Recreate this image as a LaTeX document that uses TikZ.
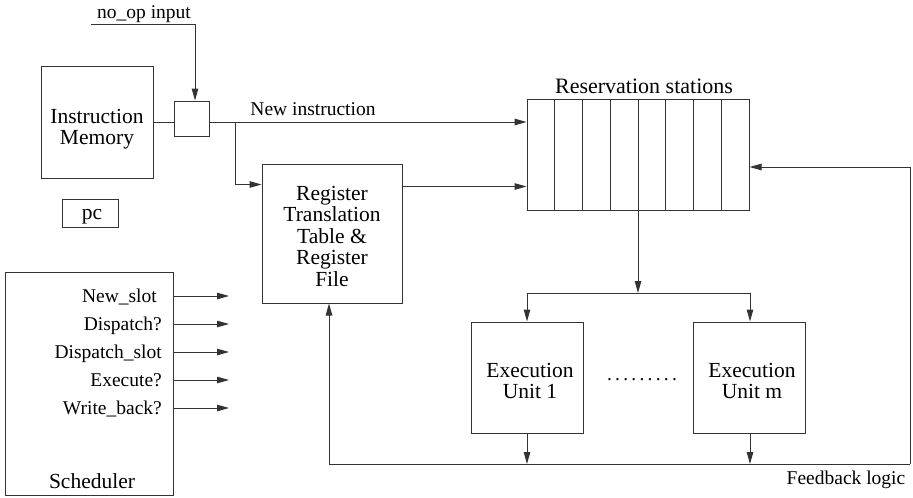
\documentclass[tikz,border=0pt]{standalone}
\usepackage{fontspec}
\setmainfont{Liberation Serif}
\usetikzlibrary{arrows.meta,calc}
\begin{document}
\begin{tikzpicture}[x=1pt,y=-1pt,
  box/.style={draw=black!80,line width=1pt,rectangle,inner sep=0pt},
  ln/.style={draw=black!80,line width=1pt},
  arr/.style={ln,-{Triangle[length=12pt,width=6.5pt]}},
  lab/.style={font=\fontsize{19.5}{21}\selectfont,inner sep=0pt},
  big/.style={font=\fontsize{21.5}{21.5}\selectfont,inner sep=0pt,align=center}]
\useasboundingbox (0,0) rectangle (913,498);

% boxes
\node[box,minimum width=112pt,minimum height=112pt] (im) at (97,122) {};
\node[big] (imt) at (97,129) {Instruction\\Memory};
\node[box,minimum width=35pt,minimum height=35pt] (mux) at (191.5,118.5) {};
\node[box,minimum width=56pt,minimum height=28pt] (pc) at (90,213) {};
\node[big,anchor=base] (pct) at (92,219) {pc};
\node[box,minimum width=168pt,minimum height=223pt] (sched) at (89,383.5) {};
\node[big,anchor=base] (schedt) at (92,488) {Scheduler};
\node[box,minimum width=140pt,minimum height=139pt] (rtt) at (332,233.5) {};
\node[big] (rttt) at (332,236) {Register\\Translation\\Table \&\\Register\\File};
\node[box,minimum width=222pt,minimum height=111pt] (rs) at (638,154.5) {};
\foreach \i in {1,...,7}
  \draw[ln] ($(rs.north west)!\i/8!(rs.north east)$) -- ($(rs.south west)!\i/8!(rs.south east)$);
\node[big,anchor=base,font=\fontsize{22}{22}\selectfont] (rst) at (644,93) {Reservation stations};
\node[box,minimum width=112pt,minimum height=111pt] (eu1) at (527,377.5) {};
\node[big] (eu1t) at (530,381) {Execution\\ Unit 1};
\node[box,minimum width=112pt,minimum height=111pt] (eum) at (749,377.5) {};
\node[big] (eumt) at (752,381) {Execution\\Unit m};
\node[lab,anchor=base] (dots) at (642,380) {\makebox[70pt]{.\hfill.\hfill.\hfill.\hfill.\hfill.\hfill.\hfill.\hfill.}};

% labels
\node[lab,anchor=base] (noop) at (144,18) {no\_op input};
\node[lab,anchor=base] (newi) at (313,115) {New instruction};
\node[lab,anchor=base] (fbl) at (846,484) {Feedback logic};

% scheduler signals
\foreach \y/\t/\xx [count=\k] in {296/New\_slot/157,324/Dispatch?/162,352/Dispatch\_slot/162,380/Execute?/162,408/Write\_back?/162}{
  \node[lab,anchor=base east] (sl\k) at (\xx,\y+6) {\t};
  \coordinate (sa\k) at (174,\y);
  \coordinate (sb\k) at (229,\y);
  \draw[arr] (sa\k) -- (sb\k);
}

% coordinates
\coordinate (n0) at (91,24);
\coordinate (br) at (235,122);
\coordinate (bl) at (527,293);
\coordinate (brr) at (750,293);
\coordinate (fl) at (329,464);
\coordinate (fr) at (910,464);
\coordinate (ft) at (910,167);

% connectors
\draw[arr] (n0) -| ($(mux.north)+(3.5,0)$);
\draw[ln] (im.east) -- (mux.west |- im.east);
\draw[arr] (mux.east |- im.east) -- (rs.west |- im.east);
\draw[arr] (br) |- ($(rtt.north west)+(0,21)$);
\draw[arr] ($(rtt.north east)+(0,23)$) -- ($(rs.north west)+(0,88)$);
\draw[arr] (rs.south) -- (rs.south |- bl);
\draw[ln] (bl) -- (brr);
\draw[arr] (bl) -- (eu1.north);
\draw[arr] (brr) -- (brr |- eum.north);
\draw[arr] (eu1.south) -- (eu1.south |- fl);
\draw[arr] (eum.south -| brr) -- (brr |- fl);
\draw[arr] (fr) -- (fl) -- (fl |- rtt.south);
\draw[arr] (fr) -- (ft) -- (rs.east |- ft);
\end{tikzpicture}
\end{document}
